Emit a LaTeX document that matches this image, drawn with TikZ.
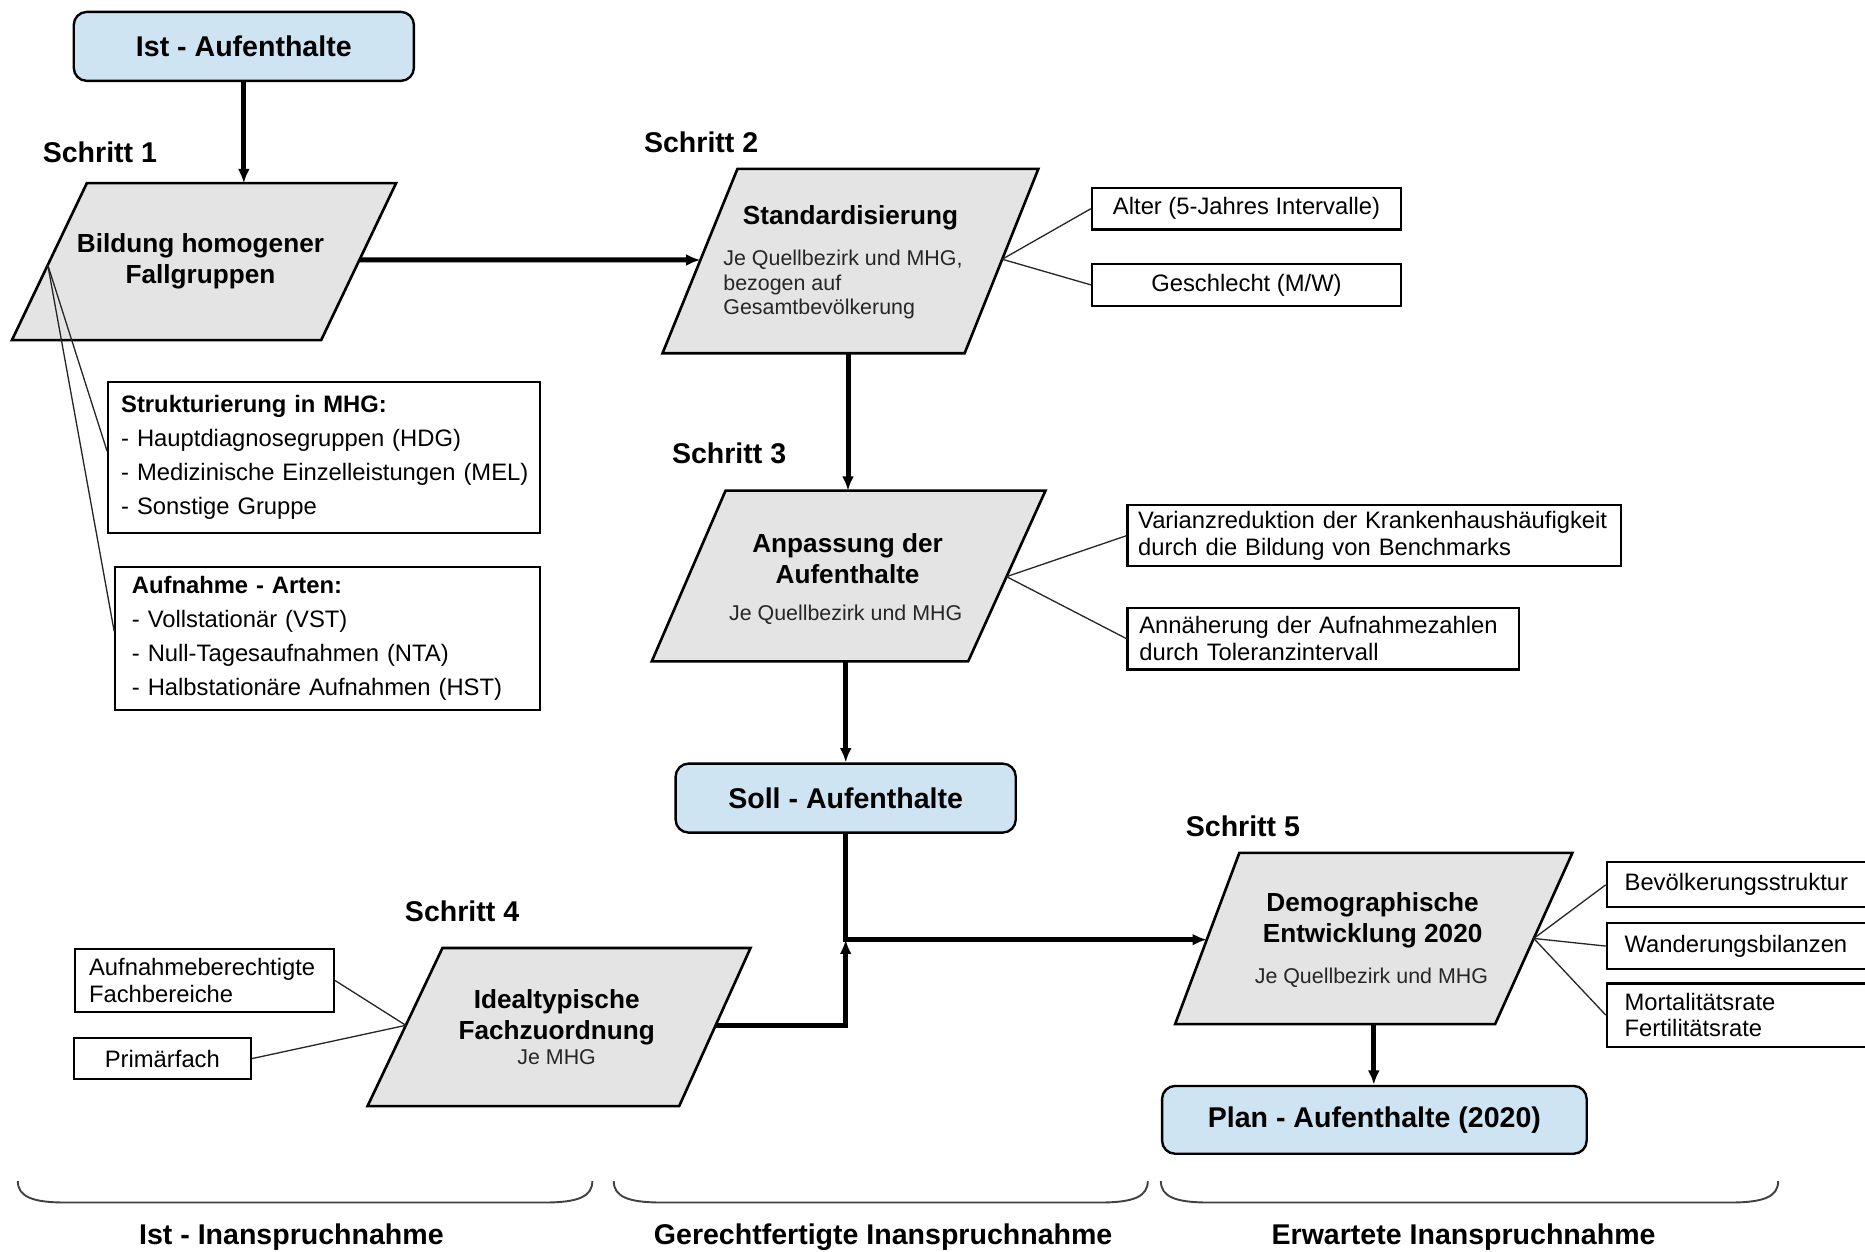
\documentclass[tikz,border=0pt]{standalone}
\usepackage{fontspec}
\setmainfont{Liberation Sans}
\usetikzlibrary{arrows.meta,calc}

\definecolor{resultblue}{HTML}{CFE4F2}
\definecolor{stepfill}{HTML}{E4E4E4}

\tikzset{
  resultbox/.style={draw=black, line width=2pt, rounded corners=11pt, fill=resultblue,
    font=\fontsize{24}{28}\selectfont\bfseries, inner sep=0pt},
  parashape/.style={draw=black, line width=2.2pt, fill=stepfill, line join=miter},
  paratitle/.style={font=\fontsize{22}{26}\selectfont\bfseries, align=center, inner sep=0pt},
  parasub/.style={font=\fontsize{18}{20.5}\selectfont, inner sep=0pt, text=black!85},
  infobox/.style={draw=black, line width=1.8pt, fill=white, inner ysep=0pt,
    font=\fontsize{20}{22.5}\selectfont},
  listbox/.style={infobox, font=\fontsize{20}{28.5}\selectfont},
  steplabel/.style={font=\fontsize{24}{28}\selectfont\bfseries, inner sep=0pt, anchor=base},
  flow/.style={line width=4.2pt, -{Latex[length=12pt,width=10pt]}},
  link/.style={line width=1.1pt, draw=black!85},
  phasebrace/.style={line width=1.6pt, draw=black!75},
}

\begin{document}
\begin{tikzpicture}[x=1pt,y=-1pt]
\useasboundingbox (0,0) rectangle (1568,1052);
\clip (0,0) rectangle (1568,1052);
\fill[white] (0,0) rectangle (1568,1052);

% ---------- result boxes ----------
\node[resultbox, minimum width=286pt, minimum height=58pt] (ist) at (205,39) {Ist - Aufenthalte};
\node[resultbox, minimum width=286pt, minimum height=58pt] (soll) at (711,671) {Soll - Aufenthalte};
\node[resultbox, minimum width=357pt, minimum height=57pt] (plan) at (1155.5,941.5) {Plan - Aufenthalte (2020)};

% ---------- step labels ----------
\node[steplabel] (s1) at (84,136.6) {Schritt 1};
\node[steplabel] (s2) at (589.5,128.6) {Schritt 2};
\node[steplabel] (s3) at (613,389.6) {Schritt 3};
\node[steplabel] (s4) at (388.5,774.6) {Schritt 4};
\node[steplabel] (s5) at (1045,703.6) {Schritt 5};

% ---------- Schritt 1 ----------
\coordinate (p1tl) at (73,154);  \coordinate (p1tr) at (333,154);
\coordinate (p1br) at (270,286); \coordinate (p1bl) at (10,286);
\draw[parashape] (p1tl) -- (p1tr) -- (p1br) -- (p1bl) -- cycle;
\node[paratitle] (p1title) at (168.5,220) {Bildung homogener\\Fallgruppen};

% ---------- Schritt 2 ----------
\coordinate (p2tl) at (620,142);  \coordinate (p2tr) at (873,142);
\coordinate (p2br) at (811,297);  \coordinate (p2bl) at (557,297);
\draw[parashape] (p2tl) -- (p2tr) -- (p2br) -- (p2bl) -- cycle;
\node[paratitle] (p2title) at (715,183.2) {Standardisierung};
\node[parasub, align=left, anchor=west] (p2sub) at (608,239.3)
  {Je Quellbezirk und MHG,\\bezogen auf\\Gesamtbevölkerung};

% ---------- Schritt 3 ----------
\coordinate (p3tl) at (610,412.5); \coordinate (p3tr) at (879,412.5);
\coordinate (p3br) at (814,556);   \coordinate (p3bl) at (548,556);
\draw[parashape] (p3tl) -- (p3tr) -- (p3br) -- (p3bl) -- cycle;
\node[paratitle] (p3title) at (712.6,470) {Anpassung der\\Aufenthalte};
\node[parasub] (p3sub) at (711,517) {Je Quellbezirk und MHG};

% ---------- Schritt 4 ----------
\coordinate (p4tl) at (372,797);  \coordinate (p4tr) at (631,797);
\coordinate (p4br) at (571,930);  \coordinate (p4bl) at (309,930);
\draw[parashape] (p4tl) -- (p4tr) -- (p4br) -- (p4bl) -- cycle;
\node[paratitle] (p4title) at (468,855) {Idealtypische\\Fachzuordnung};
\node[parasub] (p4sub) at (468,889) {Je MHG};

% ---------- Schritt 5 ----------
\coordinate (p5tl) at (1042,717); \coordinate (p5tr) at (1322,717);
\coordinate (p5br) at (1257,861); \coordinate (p5bl) at (988,861);
\draw[parashape] (p5tl) -- (p5tr) -- (p5br) -- (p5bl) -- cycle;
\node[paratitle] (p5title) at (1154,774) {Demographische\\Entwicklung 2020};
\node[parasub] (p5sub) at (1153,822) {Je Quellbezirk und MHG};

% ---------- attachment points on the step borders ----------
\coordinate (p1e) at ($(p1tr)!0.489!(p1br)$);
\coordinate (p1w) at ($(p1tl)!0.521!(p1bl)$);
\coordinate (p2w) at ($(p2tl)!0.494!(p2bl)$);
\coordinate (p2e) at ($(p2tr)!0.49!(p2br)$);
\coordinate (p2s) at ($(p2bl)!0.614!(p2br)$);
\coordinate (p3e) at ($(p3tr)!0.504!(p3br)$);
\coordinate (p3s) at ($(p3bl)!0.613!(p3br)$);
\coordinate (p4w) at ($(p4tl)!0.489!(p4bl)$);
\coordinate (p4e) at ($(p4tr)!0.489!(p4br)$);
\coordinate (p5w) at ($(p5tl)!0.507!(p5bl)$);
\coordinate (p5e) at ($(p5tr)!0.5!(p5br)$);
\coordinate (p5s) at ($(p5bl)!0.621!(p5br)$);

% ---------- detail boxes ----------
\node[listbox, anchor=north west, text width=341pt, inner xsep=11pt, minimum height=127pt, align=left] (struk) at (90,320)
  {\mbox{\textbf{Strukturierung in MHG:}}\\\mbox{- Hauptdiagnosegruppen (HDG)}\\\mbox{- Medizinische Einzelleistungen (MEL)}\\\mbox{- Sonstige Gruppe}};
\node[listbox, anchor=north west, text width=329pt, inner xsep=14pt, minimum height=120pt, align=left] (aufn) at (96,476)
  {\mbox{\textbf{Aufnahme - Arten:}}\\\mbox{- Vollstationär (VST)}\\\mbox{- Null-Tagesaufnahmen (NTA)}\\\mbox{- Halbstationäre Aufnahmen (HST)}};

\node[infobox, minimum width=260pt, minimum height=35pt] (alter) at (1048,175.5) {Alter (5-Jahres Intervalle)};
\node[infobox, minimum width=260pt, minimum height=35pt] (geschl) at (1048,239.5) {Geschlecht (M/W)};

\node[infobox, anchor=north west, text width=397pt, inner xsep=9pt, minimum height=51pt, align=left] (varianz) at (947,424)
  {\mbox{Varianzreduktion der Krankenhaushäufigkeit}\\\mbox{durch die Bildung von Benchmarks}};
\node[infobox, anchor=north west, text width=309pt, inner xsep=10pt, minimum height=52pt, align=left] (annaeh) at (947,510)
  {\mbox{Annäherung der Aufnahmezahlen}\\\mbox{durch Toleranzintervall}};

\node[infobox, anchor=north west, text width=194pt, inner xsep=12pt, minimum height=53pt, align=left] (aufber) at (62,797)
  {\mbox{Aufnahmeberechtigte}\\\mbox{Fachbereiche}};
\node[infobox, minimum width=149pt, minimum height=34pt] (primaer) at (136.5,890) {Primärfach};

\node[infobox, anchor=north west, text width=230pt, inner xsep=15pt, minimum height=38pt, align=left] (bevoelk) at (1350,724)
  {Bevölkerungsstruktur};
\node[infobox, anchor=north west, text width=230pt, inner xsep=15pt, minimum height=39pt, align=left] (wander) at (1350,775)
  {Wanderungsbilanzen};
\node[infobox, anchor=north west, text width=230pt, inner xsep=15pt, minimum height=53pt, align=left] (mortal) at (1350,826)
  {Mortalitätsrate\\Fertilitätsrate};

% ---------- thin links to detail boxes ----------
\draw[link] (p1w) -- ($(struk.north west)!0.46!(struk.south west)$);
\draw[link] (p1w) -- ($(aufn.north west)!0.45!(aufn.south west)$);
\draw[link] (p2e) -- (alter.west);
\draw[link] (p2e) -- (geschl.west);
\draw[link] (p3e) -- (varianz.west);
\draw[link] (p3e) -- (annaeh.west);
\draw[link] (p4w) -- (aufber.east);
\draw[link] (p4w) -- (primaer.east);
\draw[link] (p5e) -- (bevoelk.west);
\draw[link] (p5e) -- (wander.west);
\draw[link] (p5e) -- (mortal.west);

% ---------- main flow ----------
\coordinate (j) at (soll.south |- p5w);
\draw[flow] (ist.south) -- (ist.south |- p1tl);
\draw[flow] (p1e) -- (p2w);
\draw[flow] (p2s) -- (p2s |- p3tl);
\draw[flow] (p3s) -- (p3s |- soll.north);
\draw[flow] (soll.south) -- (j) -- (p5w);
\draw[flow] (p4e) -| (j);
\draw[flow] (p5s) -- (p5s |- plan.north);

% ---------- phase brackets ----------
\draw[phasebrace] (15,993) .. controls (15,1006) and (27,1011) .. (55,1011) -- (458,1011) .. controls (486,1011) and (498,1006) .. (498,993);
\draw[phasebrace] (516,993) .. controls (516,1006) and (528,1011) .. (556,1011) -- (925,1011) .. controls (953,1011) and (965,1006) .. (965,993);
\draw[phasebrace] (976,993) .. controls (976,1006) and (988,1011) .. (1016,1011) -- (1455,1011) .. controls (1483,1011) and (1495,1006) .. (1495,993);

\node[steplabel] (ph1) at (245,1046.6) {Ist - Inanspruchnahme};
\node[steplabel] (ph2) at (742.5,1046.6) {Gerechtfertigte Inanspruchnahme};
\node[steplabel] (ph3) at (1230.5,1046.6) {Erwartete Inanspruchnahme};
\end{tikzpicture}
\end{document}
